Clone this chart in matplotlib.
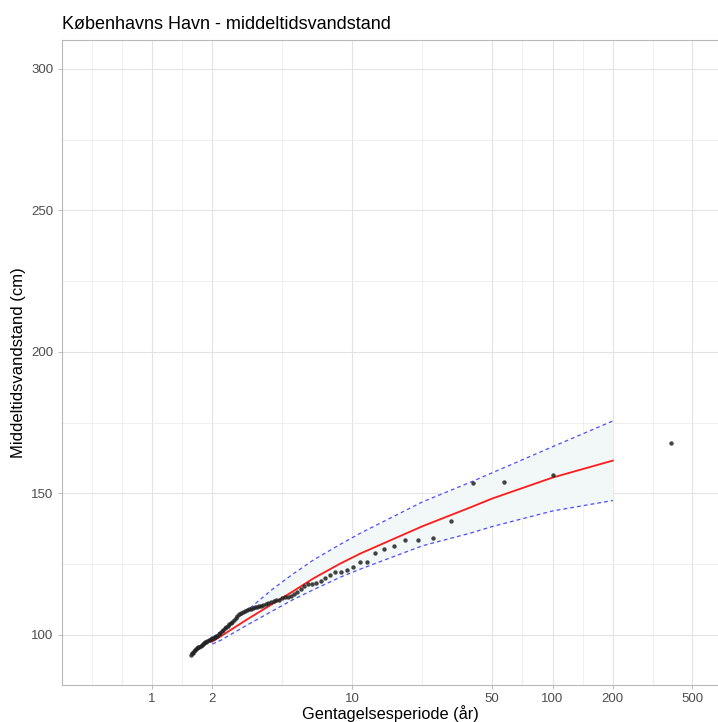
import matplotlib
matplotlib.use("Agg")
import matplotlib.pyplot as plt
from matplotlib.ticker import FixedLocator, FixedFormatter, NullFormatter
import numpy as np

plt.rcParams["font.family"] = ["Liberation Sans", "DejaVu Sans"]

# observed annual maxima: return period (years) and level (cm)
obs_period = [389, 100.0, 57.4, 40.2, 31.0, 25.2, 21.2, 18.3, 16.1, 14.4,
              13.0, 11.86, 10.90, 10.09, 9.38, 8.77, 8.23, 7.76, 7.34, 6.96,
              6.62, 6.31, 6.02, 5.77, 5.53, 5.31, 5.11, 4.92, 4.75, 4.59,
              4.43, 4.29, 4.16, 4.04, 3.92, 3.81, 3.70, 3.60, 3.51, 3.42,
              3.34, 3.26, 3.18, 3.11, 3.04, 2.97, 2.90, 2.84, 2.78, 2.73,
              2.67, 2.62, 2.57, 2.52, 2.48, 2.43, 2.39, 2.35, 2.31, 2.27,
              2.23, 2.19, 2.16, 2.12, 2.09, 2.06, 2.03, 2.00, 1.97, 1.94,
              1.92, 1.89, 1.86, 1.84, 1.81, 1.79, 1.77, 1.75, 1.72, 1.70,
              1.68, 1.66, 1.64, 1.62, 1.60, 1.59, 1.57]
obs_level = [167.8, 156.6, 154.1, 153.7, 140.1, 134.2, 133.5, 133.4, 131.3, 130.5,
             129.1, 125.9, 125.7, 124.1, 122.9, 122.3, 122.3, 121.3, 120.0, 118.9,
             118.2, 118.0, 117.9, 117.2, 116.4, 115.3, 114.5, 113.9, 113.5, 113.3,
             112.9, 112.5, 112.2, 111.9, 111.6, 111.2, 110.9, 110.6, 110.4, 110.2,
             110.0, 109.8, 109.5, 109.3, 109.0, 108.8, 108.4, 108.1, 107.7, 107.3,
             106.8, 105.9, 105.2, 104.7, 104.3, 103.8, 103.3, 102.9, 102.4, 101.9,
             101.3, 100.7, 100.3, 99.8, 99.5, 99.2, 99.0, 98.8, 98.6, 98.3,
             98.1, 97.9, 97.6, 97.4, 97.0, 96.7, 96.5, 96.2, 95.9, 95.6,
             95.3, 95.0, 94.7, 94.2, 93.7, 93.5, 93.0]

# fitted return level with confidence band
fit_period = [2.0, 2.2, 3.0, 4.0, 5.0, 6.4, 8.7, 11.0, 22.4, 39.0, 50.0, 100.0, 200.0]
fit_level = [97.7, 99.5, 105.6, 111.0, 115.2, 120.0, 125.2, 128.8, 138.4, 145.1, 148.2, 155.6, 161.6]
ci_upper = [99.0, 101.2, 108.8, 116.2, 121.3, 126.5, 132.0, 136.0, 147.0, 154.0, 157.3, 166.5, 175.6]
ci_lower = [96.8, 98.1, 103.6, 108.5, 112.3, 116.0, 120.4, 123.3, 131.5, 136.0, 138.3, 143.8, 147.5]

x_breaks = [1, 2, 10, 50, 100, 200, 500]
x_labels = ["1", "2", "10", "50", "100", "200", "500"]
y_breaks = [100, 150, 200, 250, 300]

fig = plt.figure(figsize=(7.18, 7.22), dpi=100)
ax = fig.add_axes([0.0864, 0.0512, 0.9146, 0.8934])

ax.fill_between(fit_period, ci_lower, ci_upper, color="#f2f7f8", lw=0, zorder=1)
ax.plot(fit_period, ci_upper, color="#4d4dff", lw=0.9, ls=(0, (3, 2.5)), zorder=2)
ax.plot(fit_period, ci_lower, color="#4d4dff", lw=0.9, ls=(0, (3, 2.5)), zorder=2)
ax.plot(fit_period, fit_level, color="#ff1a1a", lw=1.3, zorder=3)
ax.scatter(obs_period, obs_level, s=10, color="#222222", alpha=0.85, lw=0, zorder=4)

ax.set_xscale("log")
ax.set_xlim(0.355, 676)
ax.set_ylim(82.3, 310.2)

# major/minor grid like ggplot: minor lines halfway between breaks (log space)
lb = np.log10(x_breaks)
minor_x = [10 ** (lb[0] - (lb[1] - lb[0]))]
minor_x.append(10 ** (lb[0] - (lb[1] - lb[0]) / 2))
minor_x += [10 ** ((a + b) / 2) for a, b in zip(lb[:-1], lb[1:])]
ax.xaxis.set_major_locator(FixedLocator(x_breaks))
ax.xaxis.set_major_formatter(FixedFormatter(x_labels))
ax.xaxis.set_minor_locator(FixedLocator(minor_x))
ax.xaxis.set_minor_formatter(NullFormatter())
ax.yaxis.set_major_locator(FixedLocator(y_breaks))
ax.yaxis.set_minor_locator(FixedLocator([125, 175, 225, 275]))

ax.grid(which="major", color="#e3e3e3", lw=0.8)
ax.grid(which="minor", color="#ececec", lw=0.6)
ax.set_axisbelow(True)

for s in ax.spines.values():
    s.set_color("#b8b8b8")
    s.set_linewidth(0.8)

ax.tick_params(which="major", length=3, width=0.6, color="#b3b3b3",
               labelcolor="#4d4d4d", labelsize=9.5, pad=3)
ax.tick_params(which="minor", length=0)

ax.set_xlabel("Gentagelsesperiode (år)", fontsize=11.8, labelpad=0)
ax.set_ylabel("Middeltidsvandstand (cm)", fontsize=12, labelpad=4)
ax.set_title("Københavns Havn - middeltidsvandstand", loc="left", fontsize=13, pad=8)

fig.savefig("out.png", dpi=100)
